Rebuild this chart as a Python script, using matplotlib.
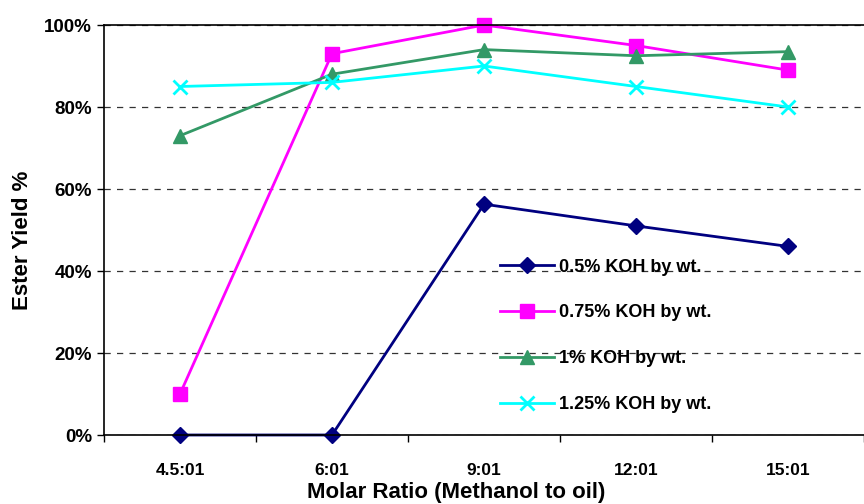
import matplotlib
matplotlib.use('Agg')
import matplotlib.pyplot as plt
from matplotlib.ticker import FuncFormatter

ratios = ['4.5:01', '6:01', '9:01', '12:01', '15:01']
koh_05 = [0, 0, 56.3, 51, 46]
koh_075 = [10, 93, 100, 95, 89]
koh_1 = [73, 88, 94, 92.5, 93.5]
koh_125 = [85, 86, 90, 85, 80]

plt.rcParams['font.family'] = ['Liberation Sans', 'DejaVu Sans']
plt.rcParams['font.weight'] = 'bold'

fig = plt.figure(figsize=(8.64, 5.04), dpi=100)
ax = fig.add_axes([104 / 864, 69 / 504, 760 / 864, 410 / 504])

x = range(len(ratios))
ax.plot(x, koh_05, color='#000080', marker='D', markersize=8, lw=2, label='0.5% KOH by wt.', clip_on=False)
ax.plot(x, koh_075, color='#FF00FF', marker='s', markersize=10, lw=2, label='0.75% KOH by wt.', clip_on=False)
ax.plot(x, koh_1, color='#339966', marker='^', markersize=10, lw=2, label='1% KOH by wt.', clip_on=False)
ax.plot(x, koh_125, color='#00FFFF', marker='x', markersize=10, mew=2, lw=2, label='1.25% KOH by wt.', clip_on=False)

ax.set_xlim(-0.5, 4.435)
ax.set_ylim(0, 100)
ax.set_yticks([0, 20, 40, 60, 80, 100])
ax.yaxis.set_major_formatter(FuncFormatter(lambda v, p: f'{v:.0f}%'))
ax.set_xticks(list(x))
ax.set_xticklabels(ratios)
ax.set_xticks([i - 0.5 for i in range(6)], minor=True)
ax.tick_params(axis='x', which='major', length=0, pad=20, labelsize=12.5)
ax.tick_params(axis='x', which='minor', length=5, width=1)
ax.tick_params(axis='y', length=5, width=1, labelsize=13.5)
ax.grid(axis='y', ls=(0, (5, 5)), color='#333333', lw=0.9)
ax.set_axisbelow(True)
for s in ['left', 'top', 'bottom']:
    ax.spines[s].set_color('black')
    ax.spines[s].set_linewidth(1.2)
ax.spines['right'].set_visible(False)

ax.set_ylabel('Ester Yield %', fontsize=16, fontweight='bold')
ax.yaxis.set_label_coords(-0.093, 0.476)
ax.set_xlabel('Molar Ratio (Methanol to oil)', fontsize=16, fontweight='bold')
ax.xaxis.set_label_coords(0.464, -0.115)

ax.legend(loc='upper left', bbox_to_anchor=(0.50, 0.47), frameon=False,
          labelspacing=1.6, handlelength=3.0, handletextpad=0.25,
          prop={'weight': 'bold', 'size': 13})

fig.savefig('out.png', dpi=100)
